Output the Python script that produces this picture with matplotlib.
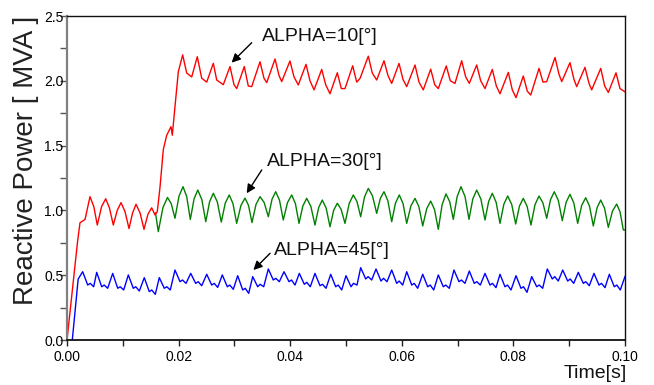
import matplotlib
matplotlib.use("Agg")
import matplotlib.pyplot as plt
from matplotlib.ticker import MultipleLocator, FormatStrFormatter

plt.rcParams['font.family'] = ['Liberation Sans', 'DejaVu Sans']

# ---- data (time in ms, reactive power in MVA) ----
red_t = [0, 1.92, 2.33, 3.23, 4.12, 4.8, 5.43, 6.2, 6.94, 7.6, 8.30, 9.0, 9.68, 10.4, 11.11,
         11.75, 12.37, 13.1, 13.80, 14.5, 15.18, 15.77, 16.18, 16.67, 17.26, 17.87, 18.64,
         18.87, 19.35, 19.95, 20.73, 21.45, 22.35, 23.35, 24.14, 25.04, 26.22, 26.83, 28.01,
         29.21, 29.93, 30.41, 31.77, 32.49, 33.10, 34.59, 35.30, 35.79, 37.28, 38.00, 38.48,
         39.96, 40.68, 41.45, 42.83, 43.55, 44.27, 45.65, 46.36, 47.13, 48.44, 49.16, 49.82,
         51.20, 51.92, 52.51, 54.00, 54.71, 55.50, 56.81, 57.53, 58.19, 59.50, 60.22, 60.88,
         62.37, 63.08, 63.85, 65.18, 65.90, 66.54, 67.97, 68.69, 69.53, 70.73, 71.45, 72.10,
         73.42, 74.14, 74.91, 76.22, 76.94, 77.60, 79.09, 79.80, 80.47, 81.77, 82.49, 83.10,
         84.59, 85.30, 85.97, 87.46, 88.17, 88.66, 90.14, 90.86, 91.34, 92.83, 93.55, 94.03,
         95.65, 96.36, 97.01, 98.39, 99.10, 100.0]
red_v = [0.0, 0.77, 0.905, 0.93, 1.106, 1.03, 0.887, 1.03, 1.09, 1.02, 0.887, 1.0, 1.06, 0.99, 0.86,
         0.98, 1.047, 0.98, 0.854, 0.97, 1.02, 0.965, 0.99, 1.18, 1.47, 1.58, 1.646,
         1.58, 1.80, 2.07, 2.20, 2.06, 2.03, 2.186, 2.02, 1.99, 2.135, 2.006, 1.97,
         2.11, 1.97, 1.94, 2.11, 1.96, 1.955, 2.147, 2.02, 1.986, 2.168, 2.04, 1.994,
         2.153, 2.03, 1.968, 2.127, 2.00, 1.93, 2.088, 1.97, 1.90, 2.062, 1.94, 1.94,
         2.116, 1.99, 2.018, 2.19, 2.06, 2.006, 2.155, 2.04, 1.98, 2.134, 2.01, 1.955,
         2.122, 1.99, 1.93, 2.09, 1.97, 1.94, 2.115, 2.00, 1.98, 2.155, 2.03, 1.98,
         2.122, 2.00, 1.94, 2.088, 1.96, 1.90, 2.065, 1.93, 1.87, 2.037, 1.92, 1.89,
         2.096, 1.99, 1.994, 2.18, 2.05, 1.994, 2.14, 2.01, 1.955, 2.104, 1.98, 1.93,
         2.096, 1.96, 1.91, 2.062, 1.94, 1.915]

green_t = [15.86, 16.36, 17.19, 18.01, 18.68, 19.35, 20.07, 20.79, 21.45, 22.10, 22.77, 23.44,
           24.16, 24.87, 25.55, 26.22, 26.94, 27.65, 28.36, 29.07, 29.74, 30.41, 31.16, 31.90,
           32.53, 33.15, 33.87, 34.59, 35.34, 36.08, 36.74, 37.40, 38.08, 38.76, 39.52, 40.27,
           40.93, 41.58, 42.27, 42.96, 43.70, 44.44, 45.10, 45.75, 46.44, 47.13, 47.79, 48.44,
           49.13, 49.82, 50.57, 51.31, 51.97, 52.63, 53.32, 54.00, 54.75, 55.50, 56.16, 56.81,
           57.50, 58.19, 58.87, 59.55, 60.22, 60.88, 61.63, 62.37, 63.06, 63.75, 64.47, 65.18,
           65.86, 66.54, 67.23, 67.92, 68.58, 69.23, 69.92, 70.61, 71.33, 72.04, 72.73, 73.42,
           74.17, 74.91, 75.57, 76.22, 76.91, 77.60, 78.29, 78.98, 79.70, 80.41, 81.09, 81.77,
           82.46, 83.15, 83.87, 84.59, 85.28, 85.97, 86.65, 87.33, 88.05, 88.76, 89.45, 90.14,
           90.83, 91.52, 92.24, 92.96, 93.64, 94.32, 94.99, 95.65, 96.33, 97.01, 97.76, 98.51,
           99.11, 99.70, 100.0]
green_v = [0.98, 0.836, 1.021, 1.10, 1.052, 0.939, 1.110, 1.183, 1.107, 0.93, 1.089, 1.157,
           1.084, 0.913, 1.066, 1.132, 1.065, 0.91, 1.056, 1.119, 1.053, 0.90, 1.037, 1.095,
           1.038, 0.906, 1.046, 1.106, 1.060, 0.951, 1.086, 1.144, 1.079, 0.926, 1.061, 1.119,
           1.053, 0.90, 1.035, 1.093, 1.031, 0.887, 1.022, 1.08, 1.018, 0.874, 1.001, 1.055,
           1.008, 0.90, 1.053, 1.119, 1.068, 0.951, 1.104, 1.17, 1.112, 0.977, 1.094, 1.144,
           1.075, 0.913, 1.057, 1.119, 1.053, 0.90, 1.035, 1.093, 1.029, 0.88, 1.014, 1.072,
           1.007, 0.854, 1.045, 1.127, 1.068, 0.931, 1.107, 1.183, 1.107, 0.931, 1.089, 1.157,
           1.088, 0.926, 1.070, 1.132, 1.062, 0.90, 1.048, 1.111, 1.046, 0.895, 1.034, 1.093,
           1.031, 0.887, 1.044, 1.111, 1.059, 0.939, 1.083, 1.144, 1.077, 0.921, 1.063, 1.124,
           1.057, 0.90, 1.039, 1.098, 1.033, 0.88, 1.020, 1.08, 1.017, 0.869, 0.995, 1.049,
           0.989, 0.849, 0.85]

blue_t = [0.95, 2.0,
          2.81, 3.71, 4.16, 4.78, 5.32, 6.22, 6.67, 7.29, 8.19, 9.09, 9.53, 10.16,
          10.99, 11.88, 12.33, 12.96, 13.85, 14.75, 15.19, 15.82, 16.54, 17.44, 17.89, 18.51,
          19.35, 20.25, 20.70, 21.33, 22.17, 23.06, 23.51, 24.14, 25.04, 25.93, 26.38, 27.01,
          27.83, 28.73, 29.17, 29.80, 30.59, 31.49, 31.94, 32.56, 33.28, 34.17, 34.62, 35.25,
          36.08, 36.97, 37.42, 38.05, 38.89, 39.79, 40.23, 40.86, 41.63, 42.53, 42.97, 43.60,
          44.44, 45.34, 45.79, 46.42, 47.26, 48.15, 48.60, 49.23, 50.00, 50.90, 51.34, 51.97,
          52.63, 53.53, 53.97, 54.60, 55.38, 56.27, 56.72, 57.35, 58.19, 59.09, 59.53, 60.16,
          60.88, 61.78, 62.22, 62.85, 63.75, 64.64, 65.09, 65.72, 66.54, 67.44, 67.88, 68.51,
          69.35, 70.25, 70.69, 71.32, 72.10, 72.99, 73.44, 74.07, 74.91, 75.81, 76.25, 76.88,
          77.60, 78.49, 78.94, 79.57, 80.47, 81.36, 81.81, 82.44, 83.28, 84.18, 84.62, 85.25,
          86.07, 86.97, 87.41, 88.04, 88.84, 89.73, 90.18, 90.81, 91.63, 92.53, 92.97, 93.60,
          94.44, 95.34, 95.79, 96.42, 97.19, 98.08, 98.53, 99.16, 100.0]
blue_v = [0.0, 0.47,
          0.527, 0.424, 0.437, 0.411, 0.522, 0.411, 0.424, 0.399, 0.514, 0.399, 0.411, 0.386,
          0.502, 0.399, 0.411, 0.378, 0.481, 0.373, 0.386, 0.352, 0.481, 0.399, 0.411, 0.386,
          0.540, 0.450, 0.463, 0.437, 0.514, 0.437, 0.450, 0.419, 0.507, 0.424, 0.437, 0.406,
          0.502, 0.411, 0.424, 0.391, 0.496, 0.386, 0.399, 0.360, 0.489, 0.411, 0.430, 0.411,
          0.548, 0.463, 0.476, 0.450, 0.527, 0.450, 0.463, 0.424, 0.514, 0.430, 0.445, 0.411,
          0.514, 0.419, 0.430, 0.399, 0.507, 0.411, 0.424, 0.386, 0.496, 0.411, 0.437, 0.424,
          0.558, 0.471, 0.489, 0.463, 0.548, 0.455, 0.476, 0.450, 0.540, 0.437, 0.455, 0.424,
          0.527, 0.424, 0.437, 0.399, 0.507, 0.411, 0.424, 0.386, 0.502, 0.411, 0.424, 0.399,
          0.540, 0.450, 0.463, 0.437, 0.532, 0.437, 0.450, 0.424, 0.514, 0.424, 0.437, 0.404,
          0.507, 0.411, 0.424, 0.386, 0.496, 0.399, 0.411, 0.368, 0.489, 0.411, 0.424, 0.399,
          0.548, 0.471, 0.489, 0.455, 0.540, 0.455, 0.471, 0.437, 0.522, 0.437, 0.450, 0.419,
          0.514, 0.424, 0.437, 0.404, 0.507, 0.411, 0.424, 0.386, 0.49]

labels = ["ALPHA=10[°]", "ALPHA=30[°]", "ALPHA=45[°]"]
label_xy = [(0.0349, 2.34), (0.0358, 1.376), (0.0371, 0.694)]
arrow_from = [(0.0331, 2.294), (0.0349, 1.312), (0.0364, 0.669)]
arrow_to = [(0.0295, 2.14), (0.0322, 1.132), (0.0334, 0.540)]

# ---- figure ----
fig = plt.figure(figsize=(6.54, 3.85), dpi=100)
ax = fig.add_axes([67/654, 1-340/385, 558/654, 324/385])

ax.plot([t/1000 for t in blue_t], blue_v, color='#0000ff', lw=1.0)
ax.plot([t/1000 for t in green_t], green_v, color='#008000', lw=1.0)
ax.plot([t/1000 for t in red_t], red_v, color='#ff0000', lw=1.0)

for lab, pos, a0, a1 in zip(labels, label_xy, arrow_from, arrow_to):
    ax.text(pos[0], pos[1], lab, fontsize=14, ha='left', va='center', color='#111111')
    ax.annotate('', xy=a1, xytext=a0,
                arrowprops=dict(arrowstyle='-|>', color='black', lw=1.0,
                                mutation_scale=13, shrinkA=0, shrinkB=0))

ax.set_xlim(0, 0.10)
ax.set_ylim(0, 2.5)
ax.xaxis.set_major_locator(MultipleLocator(0.02))
ax.xaxis.set_minor_locator(MultipleLocator(0.01))
ax.xaxis.set_major_formatter(FormatStrFormatter('%.2f'))
ax.yaxis.set_major_locator(MultipleLocator(0.5))
ax.yaxis.set_minor_locator(MultipleLocator(0.25))
ax.yaxis.set_major_formatter(FormatStrFormatter('%.1f'))

ax.tick_params(axis='x', which='both', direction='out', length=4, width=1, color='#222222',
               labelsize=10, pad=3)
ax.tick_params(axis='y', which='both', direction='out', length=5, width=1, color='#555555',
               labelsize=10, pad=-2.5)

ax.spines['left'].set_color('#808080')
ax.spines['left'].set_linewidth(1.6)
ax.spines['bottom'].set_color('#111111')
ax.spines['bottom'].set_linewidth(1.3)
ax.spines['top'].set_color('#111111')
ax.spines['top'].set_linewidth(1.0)
ax.spines['right'].set_color('#111111')
ax.spines['right'].set_linewidth(1.0)

fig.text(26/654, 1-160/385, "Reactive Power [ MVA ]", rotation=90, fontsize=20,
         ha='center', va='center', color='#222222')
fig.text(627/654, 3/385, "Time[s]", fontsize=14, ha='right', va='bottom', color='#111111')

fig.savefig("out.png", dpi=100)
